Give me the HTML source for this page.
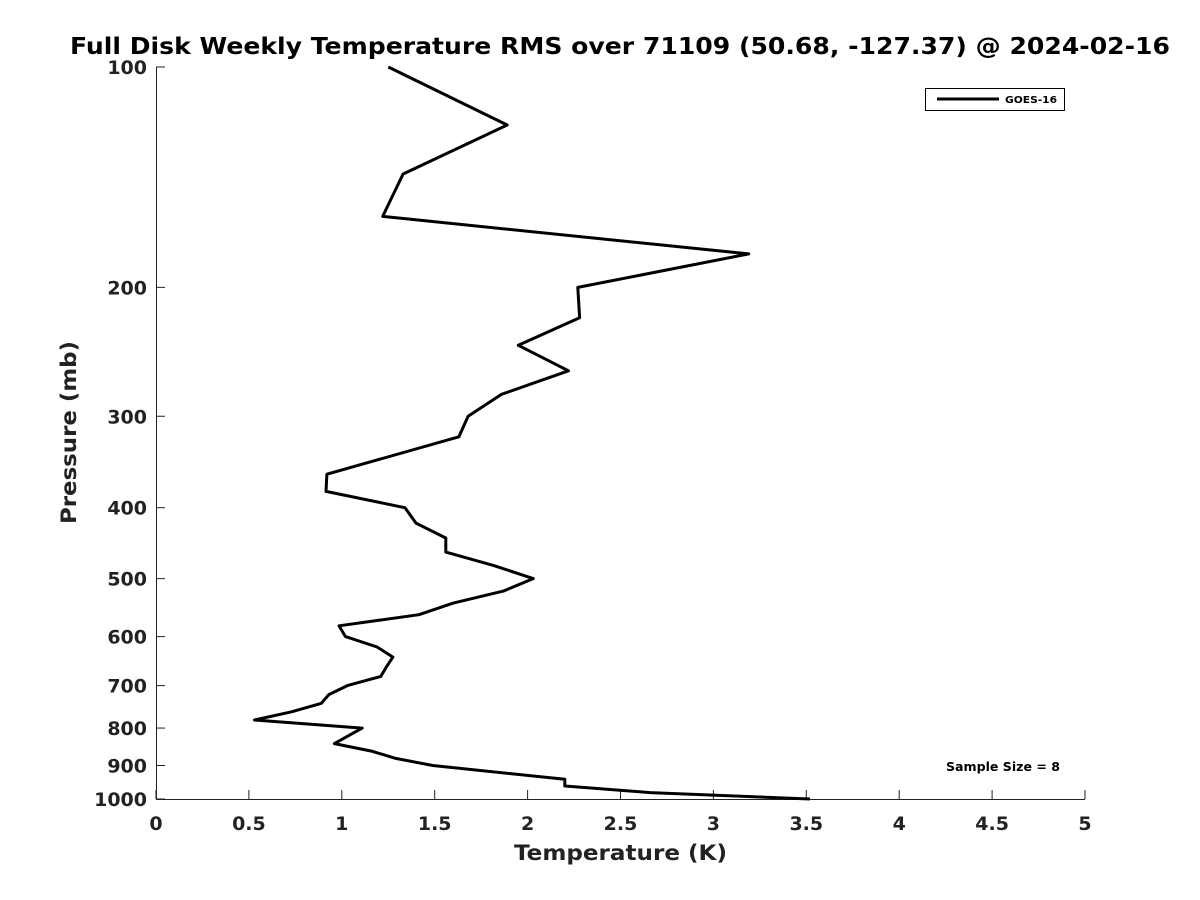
<!DOCTYPE html>
<html><head><meta charset="utf-8"><style>
html,body{margin:0;padding:0;background:#fff;}
svg{display:block;font-family:"DejaVu Sans","Liberation Sans",sans-serif;}
</style></head><body>
<svg id="chart" width="1200" height="900" xmlns="http://www.w3.org/2000/svg">
<text x="70" y="54" textLength="1100" lengthAdjust="spacingAndGlyphs" font-size="23" font-weight="bold" fill="#000">Full Disk Weekly Temperature RMS over 71109 (50.68, -127.37) @ 2024-02-16</text>
<g id="axes"></g>
<path id="line" fill="none" stroke="#000" stroke-width="3" stroke-linejoin="round"/>
<text x="514" y="860" textLength="213" lengthAdjust="spacingAndGlyphs" font-size="21" font-weight="bold" fill="#222">Temperature (K)</text>
<text transform="translate(76,524) rotate(-90)" textLength="183" lengthAdjust="spacingAndGlyphs" font-size="21" font-weight="bold" fill="#222">Pressure (mb)</text>
<g>
<rect x="925.5" y="88.5" width="139" height="22" fill="#fff" stroke="#000" stroke-width="1"/>
<line x1="937" y1="99" x2="999" y2="99" stroke="#000" stroke-width="3"/>
<text x="1005" y="103" textLength="52" lengthAdjust="spacingAndGlyphs" font-size="10" font-weight="bold">GOES-16</text>
</g>
<text x="946" y="771" textLength="114" lengthAdjust="spacingAndGlyphs" font-size="12" font-weight="bold">Sample Size = 8</text>
</svg>
<script>
const pressures=[100,120,140,160,180,200,220,240,260,280,300,320,360,380,400,420,440,460,480,500,520,540,560,580,600,620,640,660,680,700,720,740,760,780,800,840,860,880,900,940,960,980,1000];
const rmsValues=[1.25,1.89,1.33,1.22,3.19,2.27,2.28,1.95,2.22,1.86,1.68,1.63,0.92,0.915,1.34,1.40,1.56,1.56,1.82,2.03,1.87,1.60,1.415,0.985,1.02,1.19,1.275,1.24,1.21,1.03,0.93,0.89,0.73,0.53,1.11,0.96,1.16,1.29,1.49,2.20,2.20,2.66,3.52];
const xTicks=[0,0.5,1,1.5,2,2.5,3,3.5,4,4.5,5];
const yTicks=[100,200,300,400,500,600,700,800,900,1000];
const X0=156,X1=1085,Y0=67,Y1=799;
const xs=v=>X0+(v-0)/(5-0)*(X1-X0);
const ys=p=>Y0+Math.log10(p/100)*(Y1-Y0);
const NS="http://www.w3.org/2000/svg";
const axes=document.getElementById('axes');
function mk(t,a){const e=document.createElementNS(NS,t);for(const k in a)e.setAttribute(k,a[k]);axes.appendChild(e);return e;}
let e=mk('line',{x1:X0,y1:Y1+0.5,x2:X1,y2:Y1+0.5,stroke:'#222','stroke-width':1});


e=mk('line',{x1:X0+0.5,y1:Y0,x2:X0+0.5,y2:Y1,stroke:'#222','stroke-width':1});


xTicks.forEach(v=>{
 const x=xs(v);
 const t=mk('line',{x1:x,y1:Y1,x2:x,y2:Y1-9,stroke:'#222'});
 
 
 const l=mk('text',{x:x,y:830,'text-anchor':'middle','font-size':19,'font-weight':'bold',fill:'#222'});
 l.textContent=String(v);
 
 
});
yTicks.forEach(p=>{
 const y=ys(p);
 const t=mk('line',{x1:X0,y1:y,x2:X0+9,y2:y,stroke:'#222'});
 
 
 const l=mk('text',{x:147,y:y+7,'text-anchor':'end','font-size':19,'font-weight':'bold',fill:'#222'});
 l.textContent=String(p);
 
 
});
document.getElementById('line').setAttribute('d',pressures.map((p,i)=>(i?'L':'M')+xs(rmsValues[i]).toFixed(1)+','+ys(p).toFixed(1)).join(''));
</script>
</body></html>
